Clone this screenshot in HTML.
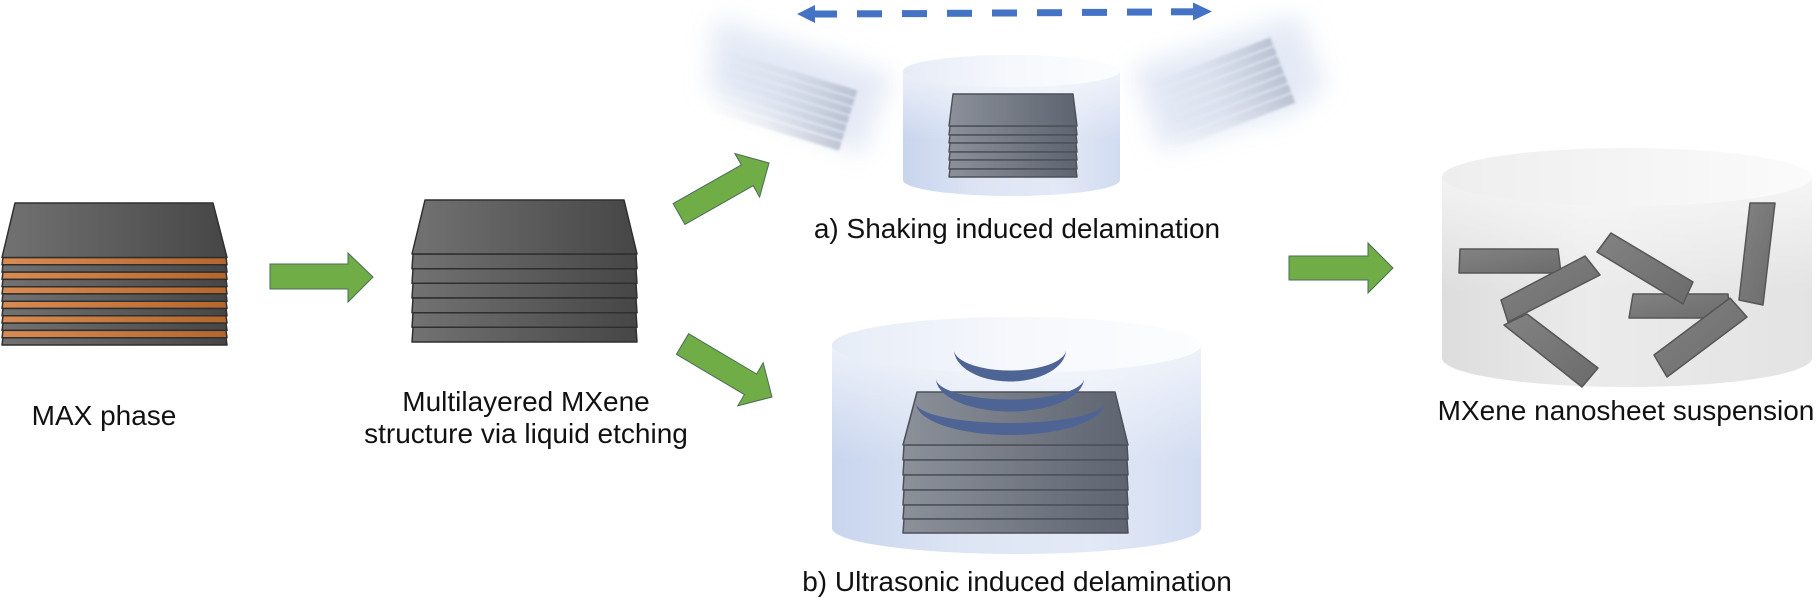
<!DOCTYPE html>
<html>
<head>
<meta charset="utf-8">
<style>
html,body{margin:0;padding:0;background:#fff;}
svg{display:block;}
text{font-family:"Liberation Sans",Arial,sans-serif;font-size:28px;fill:#111;}
</style>
</head>
<body>
<svg width="1817" height="602" viewBox="0 0 1817 602" xmlns="http://www.w3.org/2000/svg">
<defs>
  <linearGradient id="gGray" x1="0" y1="0" x2="1" y2="0">
    <stop offset="0" stop-color="#727272"/><stop offset="1" stop-color="#464646"/>
  </linearGradient>
  <linearGradient id="gOr" x1="0" y1="0" x2="1" y2="0">
    <stop offset="0" stop-color="#d98b52"/><stop offset="1" stop-color="#b4662d"/>
  </linearGradient>
  <linearGradient id="gBG" x1="0" y1="0" x2="1" y2="0">
    <stop offset="0" stop-color="#8b9099"/><stop offset="1" stop-color="#5e6470"/>
  </linearGradient>
  <linearGradient id="gFl" x1="0" y1="0" x2="1" y2="1">
    <stop offset="0" stop-color="#838383"/><stop offset="1" stop-color="#6b6b6b"/>
  </linearGradient>
  <linearGradient id="cylBlueSide" x1="0" y1="0" x2="1" y2="0">
    <stop offset="0" stop-color="#c8d5ee"/><stop offset="0.35" stop-color="#dde5f4"/>
    <stop offset="0.7" stop-color="#e3e9f6"/><stop offset="1" stop-color="#d2dcf1"/>
  </linearGradient>
  <linearGradient id="cylBlueTop" x1="0" y1="0" x2="1" y2="0">
    <stop offset="0" stop-color="#e6ecf7"/><stop offset="0.5" stop-color="#f6f8fc"/>
    <stop offset="1" stop-color="#fcfdfe"/>
  </linearGradient>
  <linearGradient id="cylGraySide" x1="0" y1="0" x2="1" y2="0">
    <stop offset="0" stop-color="#dddddd"/><stop offset="0.4" stop-color="#ebebeb"/>
    <stop offset="1" stop-color="#e3e3e3"/>
  </linearGradient>
  <linearGradient id="cylGrayTop" x1="0" y1="0" x2="1" y2="0">
    <stop offset="0" stop-color="#eeeeee"/><stop offset="1" stop-color="#fbfbfb"/>
  </linearGradient>
  <linearGradient id="vFade" x1="0" y1="0" x2="0" y2="1">
    <stop offset="0" stop-color="#ffffff" stop-opacity="0.65"/>
    <stop offset="0.55" stop-color="#ffffff" stop-opacity="0"/>
  </linearGradient>
  <linearGradient id="ghostA" gradientUnits="userSpaceOnUse" x1="-140" y1="0" x2="0" y2="0">
    <stop offset="0" stop-color="#b3bccd" stop-opacity="0"/>
    <stop offset="0.45" stop-color="#b3bccd" stop-opacity="0.2"/>
    <stop offset="1" stop-color="#a2acc0" stop-opacity="0.65"/>
  </linearGradient>
  <linearGradient id="ghostB" gradientUnits="userSpaceOnUse" x1="-130" y1="0" x2="0" y2="0">
    <stop offset="0" stop-color="#b3bccd" stop-opacity="0"/>
    <stop offset="0.45" stop-color="#b3bccd" stop-opacity="0.2"/>
    <stop offset="1" stop-color="#a2acc0" stop-opacity="0.65"/>
  </linearGradient>
  <filter id="b12" x="-50%" y="-50%" width="200%" height="200%"><feGaussianBlur stdDeviation="12"/></filter>
  <filter id="b2" x="-20%" y="-30%" width="140%" height="160%"><feGaussianBlur stdDeviation="1.2"/></filter>
</defs>

<!-- ===== MAX phase stack ===== -->
<g stroke="#2f2f2f" stroke-width="1.5" stroke-linejoin="round">
  <polygon points="3,257.5 226,257.5 227,264.8 2,264.8" fill="url(#gOr)"/>
  <polygon points="3,264.8 226,264.8 227,272.1 2,272.1" fill="url(#gGray)"/>
  <polygon points="3,272.1 226,272.1 227,279.4 2,279.4" fill="url(#gOr)"/>
  <polygon points="3,279.4 226,279.4 227,286.7 2,286.7" fill="url(#gGray)"/>
  <polygon points="3,286.7 226,286.7 227,293.9 2,293.9" fill="url(#gOr)"/>
  <polygon points="3,293.9 226,293.9 227,301.2 2,301.2" fill="url(#gGray)"/>
  <polygon points="3,301.2 226,301.2 227,308.5 2,308.5" fill="url(#gOr)"/>
  <polygon points="3,308.5 226,308.5 227,315.8 2,315.8" fill="url(#gGray)"/>
  <polygon points="3,315.8 226,315.8 227,323.1 2,323.1" fill="url(#gOr)"/>
  <polygon points="3,323.1 226,323.1 227,330.4 2,330.4" fill="url(#gGray)"/>
  <polygon points="3,330.4 226,330.4 227,337.7 2,337.7" fill="url(#gOr)"/>
  <polygon points="3,337.7 226,337.7 227,345 2,345" fill="url(#gGray)"/>
  <polygon points="15,203 213,203 227,257.5 2,257.5" fill="url(#gGray)"/>
</g>
<text x="104" y="425" text-anchor="middle">MAX phase</text>

<!-- arrow 1 -->
<polygon points="270,264 348,264 348,253 373,277 348,302 348,289 270,289" fill="#70ad47" stroke="#4a6b5a" stroke-width="1"/>

<!-- ===== Multilayered MXene ===== -->
<g stroke="#2f2f2f" stroke-width="1.5" stroke-linejoin="round">
  <polygon points="413,254 636,254 637,268.7 412,268.7" fill="url(#gGray)"/>
  <polygon points="413,268.7 636,268.7 637,283.3 412,283.3" fill="url(#gGray)"/>
  <polygon points="413,283.3 636,283.3 637,298 412,298" fill="url(#gGray)"/>
  <polygon points="413,298 636,298 637,312.7 412,312.7" fill="url(#gGray)"/>
  <polygon points="413,312.7 636,312.7 637,327.3 412,327.3" fill="url(#gGray)"/>
  <polygon points="413,327.3 636,327.3 637,342 412,342" fill="url(#gGray)"/>
  <polygon points="425,200 624,200 637,254 412,254" fill="url(#gGray)"/>
</g>
<text x="526" y="411" text-anchor="middle">Multilayered MXene</text>
<text x="526" y="443" text-anchor="middle">structure via liquid etching</text>

<!-- up / down arrows -->
<polygon points="673.1,203.6 741.3,164.9 734.9,153.5 769,163 759.6,197.1 753.2,185.7 684.9,224.4" fill="#70ad47" stroke="#4a6b5a" stroke-width="1"/>
<polygon points="688.6,333.7 756.6,374 763.2,362.8 772,397 737.8,405.8 744.4,394.6 676.4,354.3" fill="#70ad47" stroke="#4a6b5a" stroke-width="1"/>

<!-- ===== Shaking ===== -->
<!-- ghosts -->
<polygon points="715,18 892,75 862,155 708,90" fill="#d6dff1" opacity="0.65" filter="url(#b12)"/>
<g transform="translate(848,121) rotate(17)" filter="url(#b2)" fill="url(#ghostA)">
  <rect x="-140" y="-32" width="140" height="7.5"/>
  <rect x="-140" y="-23" width="140" height="7.5"/>
  <rect x="-140" y="-14" width="140" height="7.5"/>
  <rect x="-140" y="-5" width="140" height="7.5"/>
  <rect x="-140" y="4" width="140" height="7.5"/>
  <rect x="-140" y="13" width="140" height="7.5"/>
  <rect x="-140" y="22" width="140" height="9"/>
</g>
<polygon points="1132,68 1298,14 1326,85 1295,113 1160,150" fill="#d6dff1" opacity="0.65" filter="url(#b12)"/>
<g transform="translate(1283.5,72) rotate(-21)" filter="url(#b2)" fill="url(#ghostB)">
  <rect x="-130" y="-37" width="130" height="8.5"/>
  <rect x="-130" y="-27" width="130" height="8.5"/>
  <rect x="-130" y="-17" width="130" height="8.5"/>
  <rect x="-130" y="-7" width="130" height="8.5"/>
  <rect x="-130" y="3" width="130" height="8.5"/>
  <rect x="-130" y="13" width="130" height="8.5"/>
  <rect x="-130" y="23" width="130" height="10"/>
</g>

<!-- small cylinder -->
<path d="M903,71 L903,180 A108.5,16 0 0 0 1120,180 L1120,71 Z" fill="url(#cylBlueSide)"/>
<path d="M903,71 L903,180 A108.5,16 0 0 0 1120,180 L1120,71 Z" fill="url(#vFade)"/>
<ellipse cx="1011.5" cy="71" rx="108.5" ry="16" fill="url(#cylBlueTop)"/>

<g stroke="#4c5059" stroke-width="1.4" stroke-linejoin="round">
  <polygon points="950,126 1076,126 1077,135 949,135" fill="url(#gBG)"/>
  <polygon points="950,135 1076,135 1077,143 949,143" fill="url(#gBG)"/>
  <polygon points="950,143 1076,143 1077,152 949,152" fill="url(#gBG)"/>
  <polygon points="950,152 1076,152 1077,160 949,160" fill="url(#gBG)"/>
  <polygon points="950,160 1076,160 1077,169 949,169" fill="url(#gBG)"/>
  <polygon points="950,169 1076,169 1077,177 949,177" fill="url(#gBG)"/>
  <polygon points="953,94 1073,94 1077,126 949,126" fill="url(#gBG)"/>
</g>

<!-- dashed double arrow -->
<g fill="#4472c4">
  <polygon points="797,14 815,5 815,23"/>
  <rect x="814" y="10.5" width="23" height="7"/>
  <rect x="857" y="10.3" width="25" height="7"/>
  <rect x="902" y="10.1" width="25" height="7"/>
  <rect x="947" y="9.8" width="25" height="7"/>
  <rect x="992" y="9.5" width="25" height="7"/>
  <rect x="1037" y="9.2" width="25" height="7"/>
  <rect x="1082" y="8.9" width="25" height="7"/>
  <rect x="1127" y="8.6" width="25" height="7"/>
  <rect x="1171" y="8.3" width="23" height="7"/>
  <polygon points="1212,11.5 1193,2.5 1193,20.5"/>
</g>

<text x="1017" y="238" text-anchor="middle">a) Shaking induced delamination</text>

<!-- ===== Ultrasonic ===== -->
<path d="M832,345 L832,528 A184.5,26 0 0 0 1201,528 L1201,345 Z" fill="url(#cylBlueSide)"/>
<path d="M832,345 L832,528 A184.5,26 0 0 0 1201,528 L1201,345 Z" fill="url(#vFade)"/>
<ellipse cx="1016.5" cy="345" rx="184.5" ry="28" fill="url(#cylBlueTop)"/>

<g stroke="#4c5059" stroke-width="1.5" stroke-linejoin="round">
  <polygon points="904,445 1127,445 1128,460 903,460" fill="url(#gBG)"/>
  <polygon points="904,460 1127,460 1128,475 903,475" fill="url(#gBG)"/>
  <polygon points="904,475 1127,475 1128,490 903,490" fill="url(#gBG)"/>
  <polygon points="904,490 1127,490 1128,505 903,505" fill="url(#gBG)"/>
  <polygon points="904,505 1127,505 1128,519 903,519" fill="url(#gBG)"/>
  <polygon points="904,519 1127,519 1128,533 903,533" fill="url(#gBG)"/>
  <polygon points="917,392 1115,392 1128,445 903,445" fill="url(#gBG)"/>
</g>
<g fill="#4d6494">
  <path d="M954,349 A56,32 0 0 0 1066,350 A56,21 0 0 1 954,349 Z"/>
  <path d="M936,378 A74,33 0 0 0 1084,379 A74,21 0 0 1 936,378 Z"/>
  <path d="M916,403 A94,32 0 0 0 1104,403 A94,20 0 0 1 916,403 Z"/>
</g>
<text x="1017" y="591" text-anchor="middle">b) Ultrasonic induced delamination</text>

<!-- arrow 3 -->
<polygon points="1289,256 1368,256 1368,243 1393,268 1368,293 1368,280 1289,280" fill="#70ad47" stroke="#4a6b5a" stroke-width="1"/>

<!-- ===== Final cylinder ===== -->
<path d="M1442,177 L1442,358 A185,29 0 0 0 1812,358 L1812,177 Z" fill="url(#cylGraySide)"/>
<path d="M1442,177 L1442,358 A185,29 0 0 0 1812,358 L1812,177 Z" fill="url(#vFade)"/>
<ellipse cx="1627" cy="177" rx="185" ry="29" fill="url(#cylGrayTop)"/>

<g stroke="#565656" stroke-width="1.5" stroke-linejoin="round" fill="url(#gFl)">
  <polygon points="1460,249 1558,249 1561,273 1459,273"/>
  <polygon points="1504,325 1527,314 1598,368 1582,387"/>
  <polygon points="1501,300 1585,256 1600,275 1508,322"/>
  <polygon points="1633,294 1728,294 1730,318 1629,318"/>
  <polygon points="1654,355 1730,298 1747,317 1667,377"/>
  <polygon points="1597,252 1611,233 1693,282 1683,304"/>
  <polygon points="1750,203 1775,203 1763,305 1739,300"/>
</g>
<text x="1626" y="420" text-anchor="middle">MXene nanosheet suspension</text>
</svg>
</body>
</html>
